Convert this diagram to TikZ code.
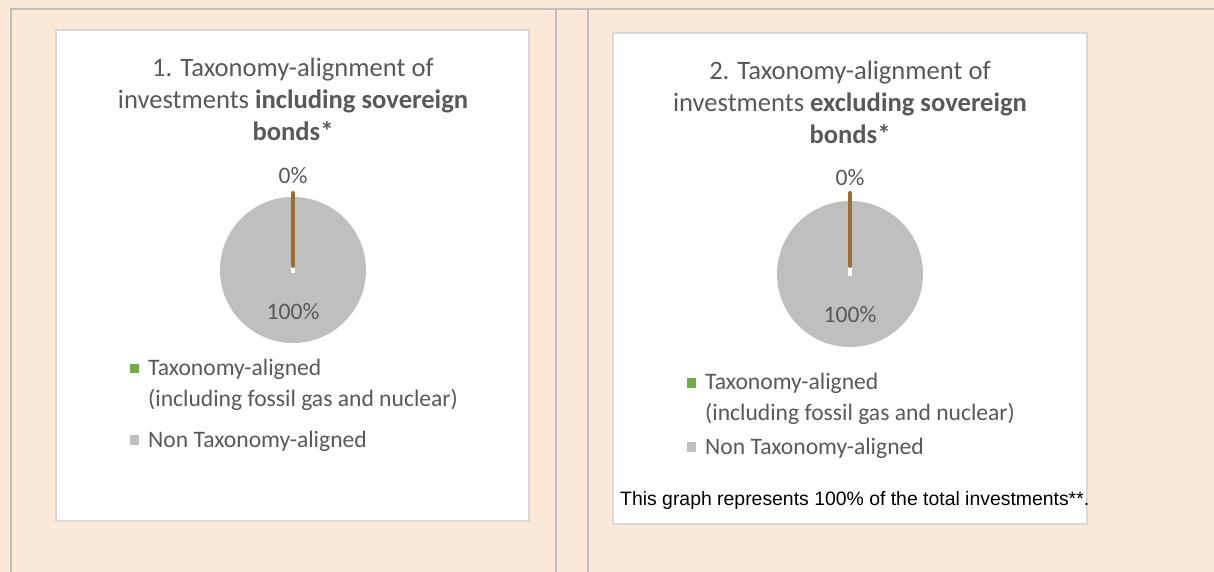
\documentclass[tikz,border=0pt]{standalone}
\usepackage{fontspec}
\setmainfont{Carlito}
\newfontfamily\arialfont{Liberation Sans}
\definecolor{bgpeach}{RGB}{250,232,216}
\definecolor{rulegray}{RGB}{191,191,191}
\definecolor{boxline}{RGB}{217,217,217}
\definecolor{txtgray}{RGB}{89,89,89}
\definecolor{piegray}{RGB}{191,191,191}
\definecolor{brownline}{RGB}{158,110,44}
\definecolor{taxgreen}{RGB}{112,173,71}
\begin{document}
\begin{tikzpicture}[x=1pt,y=-1pt,
  titletext/.style={anchor=base,inner sep=0,text=txtgray,font=\fontsize{26.6}{32}\selectfont},
  labeltext/.style={anchor=base,inner sep=0,text=txtgray,font=\fontsize{23.6}{29}\selectfont},
  legtext/.style={anchor=base west,inner sep=0,text=txtgray,font=\fontsize{23.6}{29}\selectfont},
  chartbox/.style={draw=boxline,line width=1.5pt,fill=white},
  tablerule/.style={draw=rulegray,line width=2pt},
  legmark/.style={minimum size=9.5pt,inner sep=0,outer sep=0},
  slicewhite/.style={white,line width=3.5pt},
  slicebrown/.style={brownline,line width=4pt,line cap=round}
]
\fill[bgpeach] (0,0) rectangle (1214,572);
\useasboundingbox (0,0) rectangle (1214,572);
% table rules
\draw[tablerule] (11,572) -- (11,9) -- (1214,9);
\draw[tablerule] (556,9) -- (556,572);
\draw[tablerule] (588,9) -- (588,572);
% chart boxes
\draw[chartbox] (56,30) rectangle (529,521);
\draw[chartbox] (613,33) rectangle (1087,524);
% ---------- chart 1
\node[titletext] (t1a) at (293,76.7) {1. Taxonomy-alignment of};
\node[titletext] (t1b) at (293,108.7) {investments \textbf{including sovereign}};
\node[titletext] (t1c) at (293,140.7) {\textbf{bonds*}};
\fill[piegray] (293,270) circle (73pt);
\draw[slicewhite] (293,273) -- (293,262);
\draw[slicebrown] (293,266) -- (293,193);
\node[labeltext] (p1a) at (293,183.3) {0\%};
\node[labeltext] (p1b) at (293,319.3) {100\%};
\node[legmark,fill=taxgreen] (m1a) at (134.5,368.5) {};
\node[legtext] (l1a) at (148,375.7) {Taxonomy-aligned};
\node[legtext] (l1b) at (148,406.7) {(including fossil gas and nuclear)};
\node[legmark,fill=piegray] (m1b) at (134.5,440) {};
\node[legtext] (l1c) at (148,447) {Non Taxonomy-aligned};
% ---------- chart 2
\node[titletext] (t2a) at (850,80) {2. Taxonomy-alignment of};
\node[titletext] (t2b) at (850,112) {investments \textbf{excluding sovereign}};
\node[titletext] (t2c) at (850,144) {\textbf{bonds*}};
\fill[piegray] (850,274) circle (73pt);
\draw[slicewhite] (850,276) -- (850,262);
\draw[slicebrown] (850,266) -- (850,193);
\node[labeltext] (p2a) at (850,185.7) {0\%};
\node[labeltext] (p2b) at (850,322.3) {100\%};
\node[legmark,fill=taxgreen] (m2a) at (691.5,383) {};
\node[legtext] (l2a) at (705,389.7) {Taxonomy-aligned};
\node[legtext] (l2b) at (705,420.7) {(including fossil gas and nuclear)};
\node[legmark,fill=piegray] (m2b) at (691.5,447) {};
\node[legtext] (l2c) at (705,454) {Non Taxonomy-aligned};
\node[anchor=base west,inner sep=0,text=black,font=\arialfont\fontsize{19.4}{23}\selectfont] (fn2) at (620,505) {This graph represents 100\% of the total investments**.};
\end{tikzpicture}
\end{document}
